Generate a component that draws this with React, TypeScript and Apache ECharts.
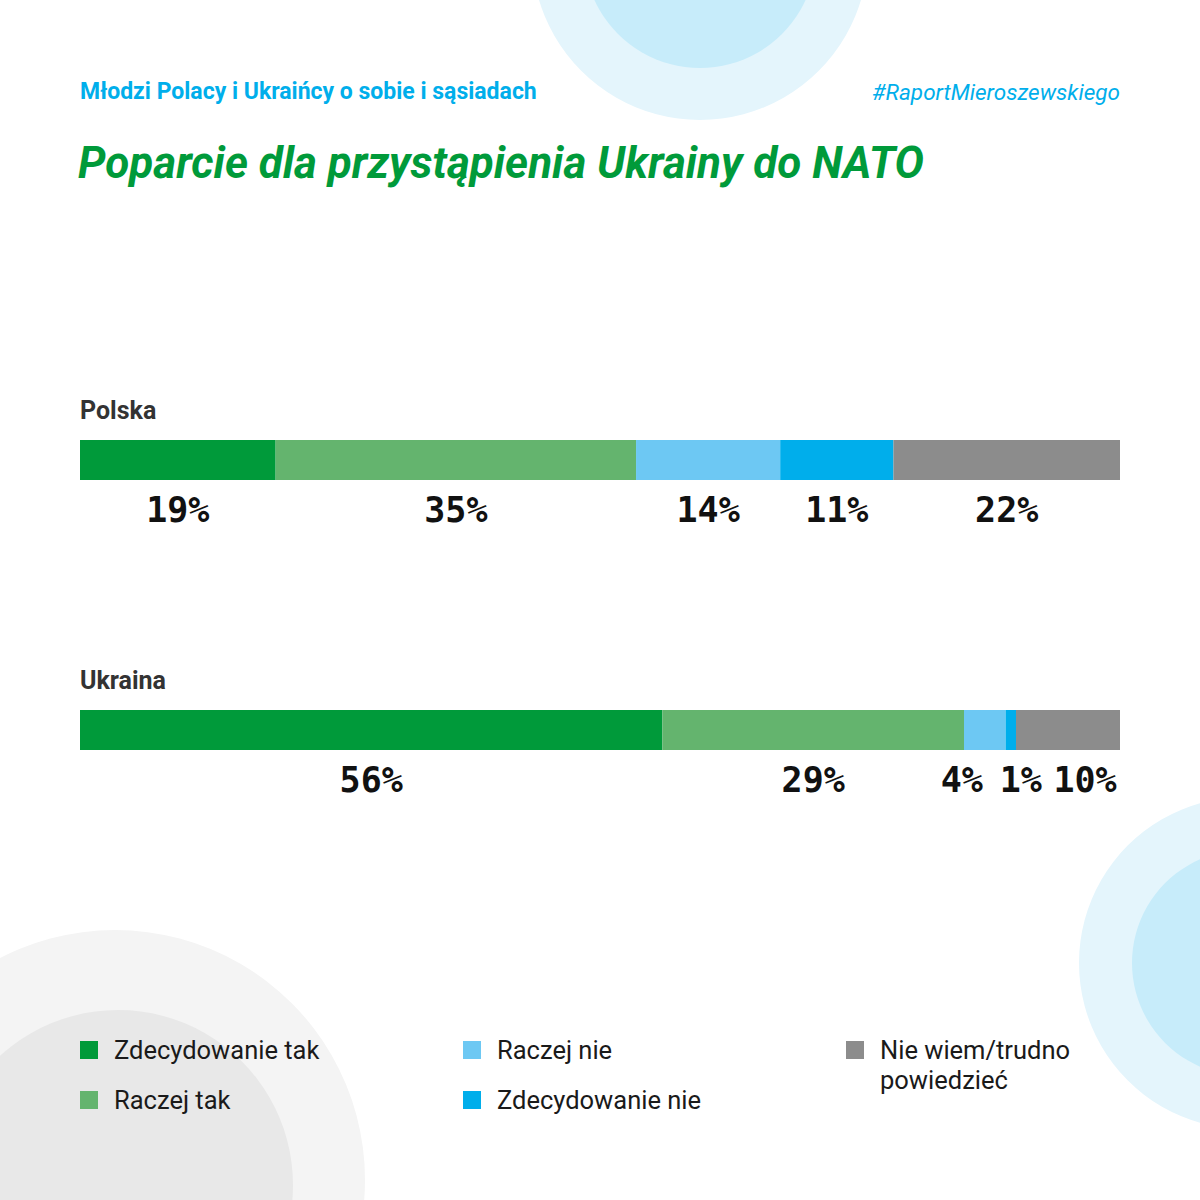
import React, { useEffect, useRef } from 'react';
import * as echarts from 'echarts';

// dane z wykresu
const countries = ['Polska', 'Ukraina'];
const answers = ['Zdecydowanie tak', 'Raczej tak', 'Raczej nie', 'Zdecydowanie nie', 'Nie wiem/trudno powiedzieć'];
const polskaValues = [19, 35, 14, 11, 22];
const ukrainaValues = [56, 29, 4, 1, 10];

const colors = ['#009a3a', '#64b46e', '#6dc8f3', '#00aeeb', '#8c8c8c'];
// przesunięcia etykiet, żeby małe wartości na siebie nie wchodziły
const labelShiftUkraina = [0, 0, -23, 10, 17];

const SANS = 'Roboto, "Noto Sans", sans-serif';
const MONO = '"DejaVu Sans Mono", "Liberation Mono", monospace';

const App: React.FC = () => {
    const chartRef = useRef<HTMLDivElement>(null);

    useEffect(() => {
        if (!chartRef.current) return;
        const chart = echarts.init(chartRef.current, undefined, { renderer: 'svg' });

        const rows = [polskaValues, ukrainaValues];
        const sums = rows.map((r) => r.reduce((a, b) => a + b, 0));

        const series = answers.map((name, i) => ({
            name,
            type: 'bar',
            stack: 'total',
            barWidth: 40,
            itemStyle: { color: colors[i] },
            data: rows.map((r, j) => ({
                value: (r[i] / sums[j]) * 100,
                label: j === 1 ? { offset: [labelShiftUkraina[i], 0] } : undefined
            })),
            label: {
                show: true,
                position: 'bottom',
                distance: 12,
                fontFamily: MONO,
                fontWeight: 'bold',
                fontSize: 35,
                color: '#111',
                formatter: (p: any) => rows[p.dataIndex][i] + '%'
            }
        }));

        const legendBase = {
            orient: 'vertical',
            icon: 'rect',
            itemWidth: 18,
            itemHeight: 18,
            itemGap: 20,
            padding: 0,
            selectedMode: false,
            top: 1035,
            textStyle: {
                fontFamily: SANS,
                fontSize: 25.5,
                lineHeight: 30,
                color: '#1a1a1a',
                padding: [0, 0, 0, 11]
            }
        };

        const option = {
            animation: false,
            backgroundColor: '#ffffff',
            graphic: [
                { type: 'circle', z: 0, silent: true, shape: { cx: 700, cy: -48, r: 168 }, style: { fill: '#e4f5fc' } },
                { type: 'circle', z: 0, silent: true, shape: { cx: 700, cy: -48, r: 116 }, style: { fill: '#c7ecfa' } },
                { type: 'circle', z: 0, silent: true, shape: { cx: 1245, cy: 963, r: 166 }, style: { fill: '#e4f5fc' } },
                { type: 'circle', z: 0, silent: true, shape: { cx: 1245, cy: 963, r: 113 }, style: { fill: '#c7ecfa' } },
                { type: 'circle', z: 0, silent: true, shape: { cx: 115, cy: 1180, r: 250 }, style: { fill: '#f4f4f4' } },
                { type: 'circle', z: 0, silent: true, shape: { cx: 118, cy: 1185, r: 175 }, style: { fill: '#e8e8e8' } }
            ],
            title: [
                {
                    text: 'Młodzi Polacy i Ukraińcy o sobie i sąsiadach',
                    left: 80,
                    top: 80,
                    padding: 0,
                    textStyle: { fontFamily: SANS, fontWeight: 'bold', fontSize: 23, color: '#00aeeb' }
                },
                {
                    text: '#RaportMieroszewskiego',
                    right: 80,
                    top: 80,
                    padding: 0,
                    textStyle: { fontFamily: SANS, fontStyle: 'italic', fontWeight: 'normal', fontSize: 22.5, color: '#00aeeb' }
                },
                {
                    text: 'Poparcie dla przystąpienia Ukrainy do NATO',
                    left: 78,
                    top: 141,
                    padding: 0,
                    textStyle: { fontFamily: SANS, fontStyle: 'italic', fontWeight: 'bold', fontSize: 44, color: '#009a3a' }
                }
            ],
            legend: [
                { ...legendBase, left: 80, data: answers.slice(0, 2) },
                { ...legendBase, left: 463, data: answers.slice(2, 4) },
                {
                    ...legendBase,
                    left: 846,
                    top: 1005,
                    data: answers.slice(4),
                    // pusta pierwsza linia, żeby ikona stała przy pierwszym wierszu tekstu
                    formatter: () => ' \nNie wiem/trudno\npowiedzieć'
                }
            ],
            grid: { left: 80, right: 80, top: 325, height: 540 },
            xAxis: { type: 'value', min: 0, max: 100, show: false },
            yAxis: {
                type: 'category',
                inverse: true,
                data: countries,
                axisLine: { show: false },
                axisTick: { show: false },
                z: 5,
                axisLabel: {
                    inside: true,
                    margin: 0,
                    align: 'left',
                    verticalAlign: 'middle',
                    lineHeight: 33,
                    formatter: (v: string) => v + '\n \n \n ',
                    fontFamily: SANS,
                    fontWeight: 'bold',
                    fontSize: 25,
                    color: '#333333'
                }
            },
            series
        };

        chart.setOption(option as any);
        return () => {
            chart.dispose();
        };
    }, []);

    return <div ref={chartRef} style={{ position: 'absolute', left: 0, top: 0, width: 1200, height: 1200 }}></div>;
};

export default App;
